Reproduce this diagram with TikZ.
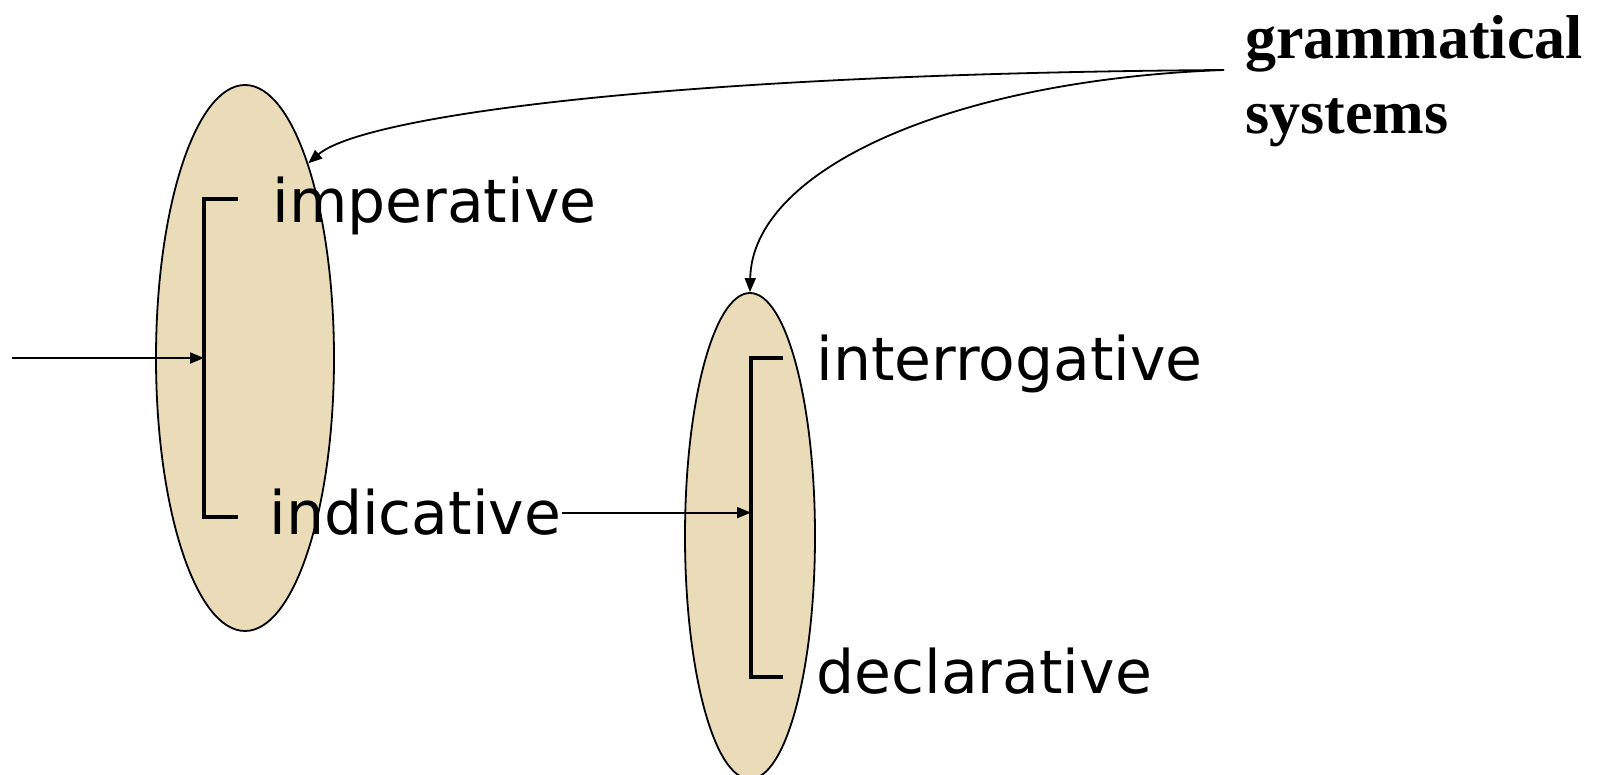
\documentclass[tikz,border=0pt]{standalone}
\usepackage{fontspec}
\setmainfont{DejaVu Sans}
\newfontfamily\titlefont{Liberation Serif}
\usetikzlibrary{shapes.geometric,arrows.meta}
\definecolor{parch}{RGB}{234,219,185}
\tikzset{
  oval/.style={ellipse, draw=black, line width=0.9pt, fill=parch, inner sep=0pt},
  choice/.style={anchor=base west, inner sep=0pt, font=\fontsize{30}{36}\selectfont},
  bracketline/.style={line width=2pt, line join=miter},
  conn/.style={line width=0.9pt, -{Triangle[length=7pt,width=5.5pt]}},
}
\begin{document}
\begin{tikzpicture}[x=0.5pt,y=-0.5pt]
\useasboundingbox (0,0) rectangle (1603,775);
% ovals
\node[oval, minimum width=89pt, minimum height=273pt] (e1) at (245,358) {};
\node[oval, minimum width=65pt, minimum height=243pt] (e2) at (750,536) {};
% labels
\node[choice] (imp) at (272,223) {imperative};
\node[choice] (ind) at (269,535) {indicative};
\node[choice] (int) at (816,381) {interrogative};
\node[choice] (dec) at (816,693) {declarative};
\node[anchor=north west, inner sep=0pt, align=left,
      font=\titlefont\bfseries\fontsize{31}{37.5}\selectfont] (gs) at (1245,15)
  {grammatical\\systems};
% brackets
\coordinate (b1t) at (204,199);
\coordinate (b1b) at (204,517);
\coordinate (b1m) at (204,358);
\coordinate (b2t) at (751,358);
\coordinate (b2b) at (751,677);
\draw[bracketline] (238,199) -- (b1t) -- (b1b) -- (238,517);
\draw[bracketline] (783,358) -- (b2t) -- (b2b) -- (783,677);
% entry arrow
\coordinate (entry) at (12,358);
\draw[conn] (entry) -- (b1m);
% indicative -> second system
\draw[conn] (ind.east) -- (ind.east -| b2t);
% grammatical systems pointers
\coordinate (gsstart) at (1224,70);
\draw[conn] (gsstart) .. controls (650,74) and (360,118) .. (e1.72);
\draw[conn] (gsstart) .. controls (950,80) and (752,170) .. (e2.north);
\end{tikzpicture}
\end{document}
